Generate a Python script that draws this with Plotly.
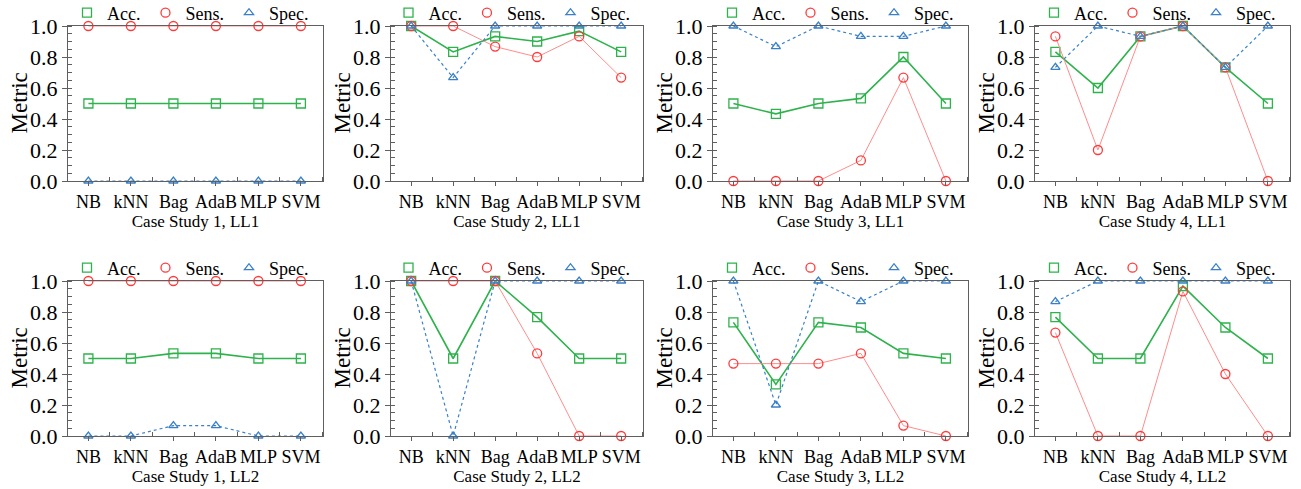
import plotly.graph_objects as go

categories = ["NB", "kNN", "Bag", "AdaB", "MLP", "SVM"]
series_names = ["Acc.", "Sens.", "Spec."]
y_title = "Metric"
panel_titles = ["Case Study 1, LL1", "Case Study 2, LL1", "Case Study 3, LL1", "Case Study 4, LL1",
                "Case Study 1, LL2", "Case Study 2, LL2", "Case Study 3, LL2", "Case Study 4, LL2"]

# ---- LL1 ----
acc_cs1_ll1 = [0.5, 0.5, 0.5, 0.5, 0.5, 0.5]
sens_cs1_ll1 = [1.0, 1.0, 1.0, 1.0, 1.0, 1.0]
spec_cs1_ll1 = [0.0, 0.0, 0.0, 0.0, 0.0, 0.0]

acc_cs2_ll1 = [1.0, 0.833, 0.933, 0.9, 0.967, 0.833]
sens_cs2_ll1 = [1.0, 1.0, 0.867, 0.8, 0.933, 0.667]
spec_cs2_ll1 = [1.0, 0.667, 1.0, 1.0, 1.0, 1.0]

acc_cs3_ll1 = [0.5, 0.433, 0.5, 0.533, 0.8, 0.5]
sens_cs3_ll1 = [0.0, 0.0, 0.0, 0.133, 0.667, 0.0]
spec_cs3_ll1 = [1.0, 0.867, 1.0, 0.933, 0.933, 1.0]

acc_cs4_ll1 = [0.833, 0.6, 0.933, 1.0, 0.733, 0.5]
sens_cs4_ll1 = [0.933, 0.2, 0.933, 1.0, 0.733, 0.0]
spec_cs4_ll1 = [0.733, 1.0, 0.933, 1.0, 0.733, 1.0]

# ---- LL2 ----
acc_cs1_ll2 = [0.5, 0.5, 0.533, 0.533, 0.5, 0.5]
sens_cs1_ll2 = [1.0, 1.0, 1.0, 1.0, 1.0, 1.0]
spec_cs1_ll2 = [0.0, 0.0, 0.067, 0.067, 0.0, 0.0]

acc_cs2_ll2 = [1.0, 0.5, 1.0, 0.767, 0.5, 0.5]
sens_cs2_ll2 = [1.0, 1.0, 1.0, 0.533, 0.0, 0.0]
spec_cs2_ll2 = [1.0, 0.0, 1.0, 1.0, 1.0, 1.0]

acc_cs3_ll2 = [0.733, 0.333, 0.733, 0.7, 0.533, 0.5]
sens_cs3_ll2 = [0.467, 0.467, 0.467, 0.533, 0.067, 0.0]
spec_cs3_ll2 = [1.0, 0.2, 1.0, 0.867, 1.0, 1.0]

acc_cs4_ll2 = [0.767, 0.5, 0.5, 0.967, 0.7, 0.5]
sens_cs4_ll2 = [0.667, 0.0, 0.0, 0.933, 0.4, 0.0]
spec_cs4_ll2 = [0.867, 1.0, 1.0, 1.0, 1.0, 1.0]

panels = [
    (acc_cs1_ll1, sens_cs1_ll1, spec_cs1_ll1),
    (acc_cs2_ll1, sens_cs2_ll1, spec_cs2_ll1),
    (acc_cs3_ll1, sens_cs3_ll1, spec_cs3_ll1),
    (acc_cs4_ll1, sens_cs4_ll1, spec_cs4_ll1),
    (acc_cs1_ll2, sens_cs1_ll2, spec_cs1_ll2),
    (acc_cs2_ll2, sens_cs2_ll2, spec_cs2_ll2),
    (acc_cs3_ll2, sens_cs3_ll2, spec_cs3_ll2),
    (acc_cs4_ll2, sens_cs4_ll2, spec_cs4_ll2),
]

W, H = 1301, 489
FONT = "Liberation Serif, Times New Roman, serif"
GREEN = "#2eb24c"
RED = "#ff3a3a"
RED_LINE = "#ff8c8c"
BLUE = "#3a80c8"
AXIS = "#5f5f5f"

# pixel geometry of plot areas
col_px = [(68, 323), (391, 643), (713, 968), (1035, 1290)]
row_px = [(26, 181), (281, 436)]

styles = [
    dict(line=dict(color=GREEN, width=1.6), marker=dict(symbol="square-open", size=9, color=GREEN, line=dict(width=1.3))),
    dict(line=dict(color=RED_LINE, width=1.0), marker=dict(symbol="circle-open", size=9, color=RED, line=dict(width=1.3))),
    dict(line=dict(color=BLUE, width=1.2, dash="dot"), marker=dict(symbol="triangle-up-open", size=8, color=BLUE, line=dict(width=1.3))),
]

xidx = list(range(len(categories)))
fig = go.Figure()
layout = dict(width=W, height=H, margin=dict(l=0, r=0, t=0, b=0, autoexpand=False),
              paper_bgcolor="white", plot_bgcolor="white",
              font=dict(family=FONT, size=17, color="black"), showlegend=True)
annotations = []

for i, series in enumerate(panels):
    r, c = divmod(i, 4)
    n = i + 1
    xa = "x" if n == 1 else f"x{n}"
    ya = "y" if n == 1 else f"y{n}"
    lg = "legend" if n == 1 else f"legend{n}"
    for k, vals in enumerate(series):
        fig.add_trace(go.Scatter(x=xidx, y=vals, mode="lines+markers", xaxis=xa, yaxis=ya,
                                 showlegend=False, cliponaxis=False, name=series_names[k], **styles[k]))
    for k in range(3):
        fig.add_trace(go.Scatter(x=[None], y=[None], mode="markers", xaxis=xa, yaxis=ya,
                                 name=series_names[k], legend=lg, showlegend=True,
                                 marker=styles[k]["marker"]))
    x0, x1 = col_px[c]
    y0, y1 = row_px[r]
    xkey = "xaxis" if n == 1 else f"xaxis{n}"
    ykey = "yaxis" if n == 1 else f"yaxis{n}"
    layout[xkey] = dict(
        domain=[x0 / W, x1 / W], anchor=ya, range=[-0.48, 5.52], automargin=False,
        tickmode="array", tickvals=xidx, ticktext=categories,
        showline=True, linecolor=AXIS, linewidth=1.3, mirror=True,
        ticks="outside", ticklen=4, tickcolor=AXIS, showgrid=False, zeroline=False,
        minor=dict(tickmode="linear", tick0=0.5, dtick=1, ticks="inside", ticklen=4, tickcolor=AXIS, showgrid=False),
        tickfont=dict(size=18, family=FONT),
        title=dict(text=panel_titles[i], font=dict(size=17, family=FONT), standoff=0),
    )
    layout[ykey] = dict(
        domain=[1 - y1 / H, 1 - y0 / H], anchor=xa, range=[0, 1], automargin=False,
        tickmode="linear", tick0=0, dtick=0.2, tickformat=".1f",
        showline=True, linecolor=AXIS, linewidth=1.3, mirror=True,
        ticks="outside", ticklen=5, tickcolor=AXIS, showgrid=False, zeroline=False,
        minor=dict(tickmode="linear", tick0=0, dtick=0.05, ticks="inside", ticklen=4, tickcolor=AXIS, showgrid=False),
        tickfont=dict(size=22, family=FONT),
    )
    # y-axis title placed close to the tick labels, as in the reference
    annotations.append(dict(
        text=y_title, textangle=-90, xref="paper", yref="paper",
        x=(x0 - 49) / W, y=1 - ((y0 + y1) / 2) / H, xanchor="center", yanchor="middle",
        showarrow=False, font=dict(size=23, family=FONT, color="black"),
    ))
    layout[lg] = dict(
        orientation="h", xanchor="center", x=((x0 + x1) / 2 - 5) / W,
        yanchor="middle", y=1 - (y0 - 13) / H,
        font=dict(size=18, family=FONT), bgcolor="rgba(0,0,0,0)",
        itemwidth=30, tracegroupgap=0,
    )

layout["annotations"] = annotations
fig.update_layout(**layout)
fig.write_html("out.html", config={"displayModeBar": False},
               post_script="document.body.style.margin='0';")
